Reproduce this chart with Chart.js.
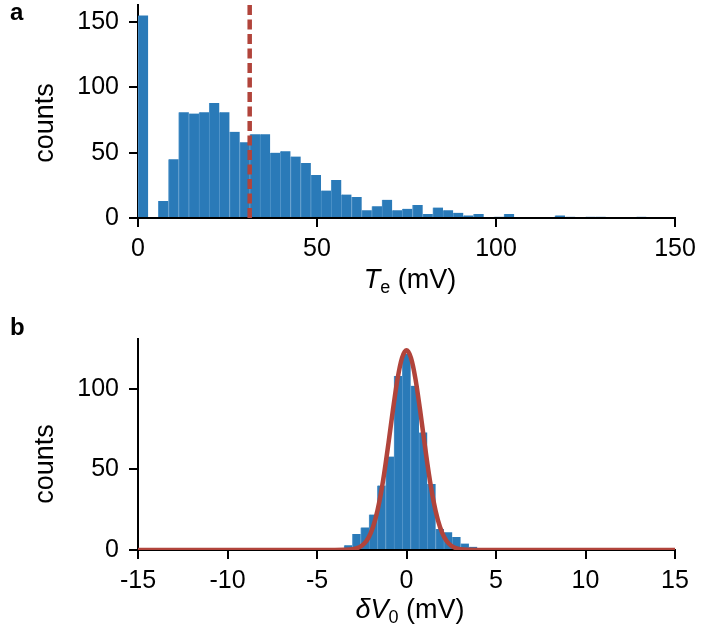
<!DOCTYPE html>
<html><head><meta charset="utf-8">
<script src="https://cdn.jsdelivr.net/npm/chart.js@4.4.0/dist/chart.umd.min.js"></script>
<style>
html,body{margin:0;padding:0;background:#fff;}
#wrap{position:relative;width:705px;height:644px;overflow:hidden;}
canvas{position:absolute;left:0;}
#ca{top:0;}
#cb{top:300px;}
</style></head><body>
<div id="wrap"><canvas id="ca" width="705" height="300"></canvas><canvas id="cb" width="705" height="344"></canvas></div>
<script>
// ---------- panel a : T_e histogram ----------
const teBinCenters = [1.42, 4.26, 7.10, 9.94, 12.78, 15.62, 18.46, 21.30, 24.14, 26.98,
  29.82, 32.66, 35.50, 38.34, 41.18, 44.02, 46.86, 49.70, 52.54, 55.38,
  58.22, 61.06, 63.90, 66.74, 69.58, 72.42, 75.26, 78.10, 80.94, 83.78,
  86.62, 89.46, 92.30, 95.14, 97.98, 100.82, 103.66, 106.50, 109.34, 112.18,
  115.02, 117.86, 120.70, 123.54, 126.38, 129.22, 132.06, 134.90, 137.74, 140.58];
const teCounts = [155, 0, 13, 45, 81, 80, 81, 88, 81, 66,
  58, 64, 64, 50, 51, 47, 42, 33, 21, 29,
  18, 16, 6, 9, 14, 6, 7, 10, 3, 8,
  6, 4, 2, 3, 0, 1, 3, 0, 0, 0,
  0, 2, 1, 0, 1, 1, 0, 0, 0, 1];
const teMean = 31.2;
const teXTicks = [0, 50, 100, 150];
const teYTicks = [0, 50, 100, 150];
const teYMax = 163;

// ---------- panel b : delta V0 histogram ----------
const dvBinCenters = [-4.650, -4.185, -3.720, -3.255, -2.790, -2.325, -1.860, -1.395, -0.930, -0.465,
  0, 0.465, 0.930, 1.395, 1.860, 2.325, 2.790, 3.255, 3.720, 4.185, 4.650, 5.115, 5.580];
const dvCounts = [1, 0, 1, 3, 10, 14, 22, 40, 58, 108,
  122, 102, 73, 41, 13, 11, 8, 4, 2, 1, 0, 0, 1];
const dvFitX = [-15, -4, -3.5, -3, -2.75, -2.5, -2.25, -2, -1.75, -1.5, -1.25, -1, -0.75, -0.5, -0.25,
  0, 0.25, 0.5, 0.75, 1, 1.25, 1.5, 1.75, 2, 2.25, 2.5, 2.75, 3, 3.5, 4, 15];
const dvFitY = [0, 0, 0.1, 0.5, 1.2, 2.6, 5.4, 10.5, 18.7, 30.9, 47.3, 66.9, 87.6, 106.3, 119.3,
  124, 119.3, 106.3, 87.6, 66.9, 47.3, 30.9, 18.7, 10.5, 5.4, 2.6, 1.2, 0.5, 0.1, 0, 0];
const dvXTicks = [-15, -10, -5, 0, 5, 10, 15];
const dvYTicks = [0, 50, 100];
const dvYMax = 131;

// ---------- styles ----------
const BLUE = '#2a7ab8';
const EDGE = '#4f93c9';
const RED = '#b1443b';
const FONT = "'Liberation Sans', Arial, Helvetica, sans-serif";
Chart.defaults.font.family = FONT;
Chart.defaults.color = '#000';

function xScale(min, max, ticks, height) {
  return {
    type: 'linear', min, max, offset: false,
    afterBuildTicks: s => { s.ticks = ticks.map(v => ({value: v})); },
    afterFit: s => { s.height = height; s.paddingLeft = 0; s.paddingRight = 0; s.paddingTop = 0; s.paddingBottom = 0; },
    grid: { display: true, drawOnChartArea: false, drawTicks: true, tickLength: 9, color: '#000', lineWidth: 2, offset: false },
    border: { display: true, color: '#000', width: 2 },
    ticks: { font: { size: 25 }, color: '#000', padding: 7, maxRotation: 0, autoSkip: false }
  };
}
function yScale(max, ticks) {
  return {
    type: 'linear', min: 0, max,
    afterBuildTicks: s => { s.ticks = ticks.map(v => ({value: v})); },
    afterFit: s => { s.width = 138; s.paddingLeft = 0; s.paddingRight = 0; s.paddingTop = 0; s.paddingBottom = 0; },
    grid: { display: true, drawOnChartArea: false, drawTicks: true, tickLength: 9, color: '#000', lineWidth: 2 },
    border: { display: true, color: '#000', width: 2 },
    ticks: { font: { size: 25 }, color: '#000', padding: 10 }
  };
}

function textPlugin(id, panel, panelY, countsY, titleParts, titleBaseline) {
  return {
    id,
    afterDraw(chart) {
      const ctx = chart.ctx;
      ctx.save();
      ctx.fillStyle = '#000';
      ctx.font = 'bold 24px ' + FONT;
      ctx.textAlign = 'left';
      ctx.textBaseline = 'alphabetic';
      ctx.fillText(panel, 10, panelY);
      ctx.save();
      ctx.translate(53, countsY);
      ctx.rotate(-Math.PI / 2);
      ctx.font = '27px ' + FONT;
      ctx.textAlign = 'center';
      ctx.fillText('counts', 0, 0);
      ctx.restore();
      let total = 0;
      for (const p of titleParts) { ctx.font = p.font; p.w = ctx.measureText(p.t).width; total += p.w; }
      let x = 410 - total / 2;
      ctx.textAlign = 'left';
      for (const p of titleParts) {
        ctx.font = p.font;
        ctx.fillText(p.t, x, titleBaseline + (p.dy || 0));
        x += p.w;
      }
      ctx.restore();
    }
  };
}

const barStyle = { backgroundColor: BLUE, borderColor: EDGE, borderSkipped: false,
  borderWidth: { left: 1, right: 0, top: 0, bottom: 0 }, barPercentage: 1, categoryPercentage: 1, order: 1 };

new Chart(document.getElementById('ca'), {
  type: 'bar',
  data: {
    datasets: [
      { type: 'line', data: [{x: teMean, y: 0}, {x: teMean, y: teYMax}], borderColor: RED, borderWidth: 4.5,
        borderDash: [10, 4.5], pointRadius: 0, fill: false, order: 0, clip: false },
      Object.assign({ type: 'bar', data: teBinCenters.map((c, i) => ({x: c, y: teCounts[i]})) }, barStyle)
    ]
  },
  options: {
    responsive: false, animation: false, devicePixelRatio: 1,
    layout: { padding: { top: 5, right: 30, left: 0, bottom: 0 } },
    plugins: { legend: { display: false }, tooltip: { enabled: false } },
    scales: { x: xScale(0, 150, teXTicks, 82), y: yScale(teYMax, teYTicks) }
  },
  plugins: [textPlugin('ta', 'a', 20, 123, [
    { t: 'T', font: 'italic 27px ' + FONT },
    { t: 'e', font: '18px ' + FONT, dy: 5 },
    { t: ' (mV)', font: '27px ' + FONT }
  ], 288)]
});

new Chart(document.getElementById('cb'), {
  type: 'bar',
  data: {
    datasets: [
      { type: 'line', data: dvFitX.map((x, i) => ({x, y: dvFitY[i]})), borderColor: RED, borderWidth: 4.5,
        pointRadius: 0, fill: false, cubicInterpolationMode: 'monotone', order: 0 },
      Object.assign({ type: 'bar', data: dvBinCenters.map((c, i) => ({x: c, y: dvCounts[i]})) }, barStyle)
    ]
  },
  options: {
    responsive: false, animation: false, devicePixelRatio: 1,
    layout: { padding: { top: 39, right: 30, left: 0, bottom: 0 } },
    plugins: { legend: { display: false }, tooltip: { enabled: false } },
    scales: { x: xScale(-15, 15, dvXTicks, 94), y: yScale(dvYMax, dvYTicks) }
  },
  plugins: [textPlugin('tb', 'b', 35, 164, [
    { t: '\u03B4V', font: 'italic 27px ' + FONT },
    { t: '0', font: '18px ' + FONT, dy: 5 },
    { t: ' (mV)', font: '27px ' + FONT }
  ], 318)]
});
</script>
</body></html>
